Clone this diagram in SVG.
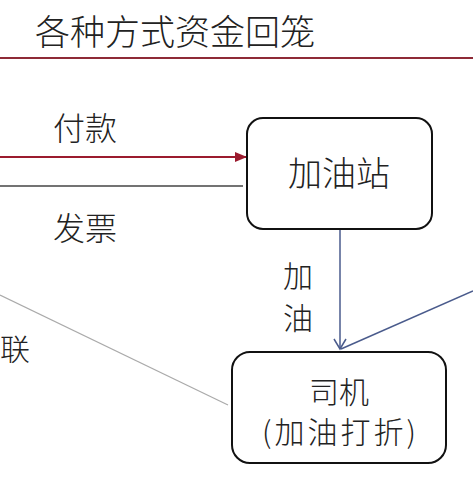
<svg xmlns="http://www.w3.org/2000/svg" width="473" height="477" viewBox="0 0 473 477">
<defs>
<style>
text{font-family:"Noto Sans CJK SC","Liberation Sans",sans-serif;fill:#222;font-weight:300}
.box{fill:#fff;stroke:#111;stroke-width:2}
</style>
<marker id="redArrow" markerWidth="12" markerHeight="10" refX="11" refY="5" orient="auto" markerUnits="userSpaceOnUse">
<path d="M0,0 L12,5 L0,10 Z" fill="#9b1b2e"/>
</marker>
</defs>
<rect width="473" height="477" fill="#fff"/>
<text x="35" y="45" font-size="35">各种方式资金回笼</text>
<line x1="0" y1="58" x2="473" y2="58" stroke="#8e2a36" stroke-width="2"/>
<g id="connectors">
<line x1="0" y1="157" x2="246" y2="157" stroke="#9b1b2e" stroke-width="2" marker-end="url(#redArrow)"/>
<line x1="0" y1="186" x2="243" y2="186" stroke="#444" stroke-width="1.5"/>
<line x1="340" y1="229" x2="340" y2="349" stroke="#4a5b8c" stroke-width="1.5"/>
<path d="M334,339 L340,349 L346,339" fill="none" stroke="#4a5b8c" stroke-width="1.5"/>
<line x1="473" y1="291" x2="341" y2="349" stroke="#4a5b8c" stroke-width="1.5"/>
<line x1="0" y1="295" x2="228" y2="405" stroke="#aaa" stroke-width="1.2"/>
<text x="53" y="140" font-size="32">付款</text>
<text x="53" y="240" font-size="32">发票</text>
<text x="283" y="287" font-size="30">加</text>
<text x="283" y="329" font-size="30">油</text>
<text x="0" y="360" font-size="30">联</text>
</g>
<g id="station">
<rect class="box" x="247" y="118" width="185" height="111" rx="16"/>
<text x="339" y="186" font-size="34" text-anchor="middle">加油站</text>
</g>
<g id="driver">
<rect class="box" x="232" y="352" width="214" height="111" rx="18"/>
<text x="339" y="403" font-size="30" text-anchor="middle">司机</text>
<text x="339" y="443" font-size="30" text-anchor="middle" textLength="154" lengthAdjust="spacing">(加油打折)</text>
</g>
</svg>
